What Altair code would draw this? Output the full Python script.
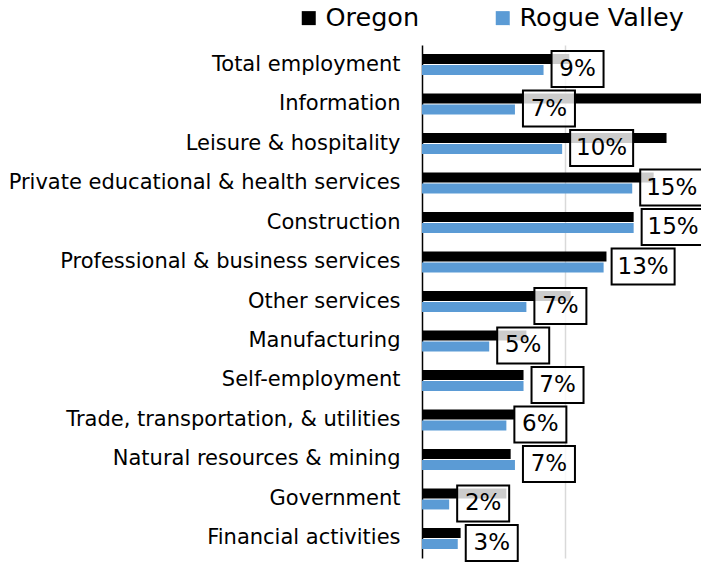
import altair as alt
import pandas as pd

categories = [
    "Total employment", "Information", "Leisure & hospitality",
    "Private educational & health services", "Construction",
    "Professional & business services", "Other services", "Manufacturing",
    "Self-employment", "Trade, transportation, & utilities",
    "Natural resources & mining", "Government", "Financial activities",
]
oregon = [10.3, 21.0, 17.1, 16.2, 14.8, 12.9, 10.4, 7.3, 7.1, 6.5, 6.2, 5.9, 2.7]
rogue_valley = [8.5, 6.5, 9.8, 14.7, 14.8, 12.7, 7.3, 4.7, 7.1, 5.9, 6.5, 1.9, 2.5]
rv_labels = ["9%", "7%", "10%", "15%", "15%", "13%", "7%", "5%", "7%", "6%", "7%", "2%", "3%"]
series = ["Oregon", "Rogue Valley"]
colors = ["#000000", "#5b9bd5"]

long_df = pd.DataFrame(
    [{"cat": c, "series": "Oregon", "v": o} for c, o in zip(categories, oregon)]
    + [{"cat": c, "series": "Rogue Valley", "v": r} for c, r in zip(categories, rogue_valley)]
)
lab_df = pd.DataFrame({"cat": categories, "v": rogue_valley, "label": rv_labels})
lab_df["wide"] = lab_df["label"].str.len() > 2

FONT = "DejaVu Sans"
xscale = alt.Scale(domain=[0, 19.51], nice=False, zero=True)
yscale = alt.Scale(domain=categories, paddingInner=0.47, paddingOuter=0.229)

bars = alt.Chart(long_df).mark_bar(clip=True).encode(
    x=alt.X("v:Q", scale=xscale,
            axis=alt.Axis(values=[10], grid=True, gridColor="#d9d9d9", gridWidth=1.5,
                          labels=False, ticks=False, domain=False, title=None)),
    y=alt.Y("cat:N", scale=yscale, sort=categories,
            axis=alt.Axis(title=None, ticks=False, domainColor="#000000", domainWidth=1.5,
                          labelFontSize=21, labelFont=FONT, labelColor="#000000",
                          labelPadding=22, labelLimit=600)),
    yOffset=alt.YOffset("series:N", scale=alt.Scale(domain=series, paddingInner=0.1)),
    color=alt.Color("series:N", scale=alt.Scale(domain=series, range=colors),
                    legend=alt.Legend(title=None, orient="none", direction="horizontal",
                                      legendX=-126, legendY=-40, padding=0,
                                      symbolType="square", symbolSize=196,
                                      symbolStrokeWidth=0, labelFontSize=25.5,
                                      labelFont=FONT, labelColor="#000000",
                                      labelLimit=400, labelOffset=4, columnPadding=70)),
)

def box_layers(wide, w):
    base = alt.Chart(lab_df).transform_filter(
        alt.datum.wide if wide else ~alt.datum.wide
    )
    box = base.mark_bar(
        xOffset=8, x2Offset=8 + w, yOffset=4.5, size=36,
        fill="#ffffff", fillOpacity=0.8, stroke="#000000", strokeWidth=2,
    ).encode(
        x=alt.X("v:Q", scale=xscale),
        x2="v:Q",
        y=alt.Y("cat:N", scale=yscale, sort=categories),
    )
    txt = base.mark_text(
        dx=8 + w / 2, dy=4.5, align="center", baseline="middle",
        fontSize=23, font=FONT, color="#000000",
    ).encode(
        x=alt.X("v:Q", scale=xscale),
        y=alt.Y("cat:N", scale=yscale, sort=categories),
        text="label:N",
    )
    return box + txt

chart = alt.layer(bars, box_layers(False, 52), box_layers(True, 63)).properties(
    width=279, height=513,
    autosize=alt.AutoSizeParams(type="none"),
    padding={"left": 422, "top": 45, "right": 0, "bottom": 4},
).configure_view(stroke=None)

chart.save("out.html", embed_options={"renderer": "svg", "actions": False})
